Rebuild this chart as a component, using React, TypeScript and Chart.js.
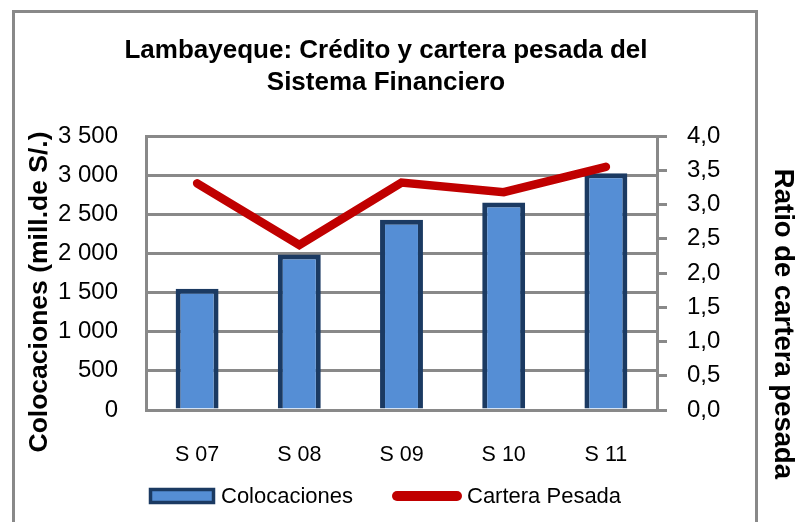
import React, { useEffect, useRef } from 'react';
import { Chart, registerables } from 'chart.js';

Chart.register(...registerables);

const categories = ['S 07', 'S 08', 'S 09', 'S 10', 'S 11'];
const colocaciones = [1550, 1985, 2430, 2650, 3025];
const carteraPesada = [3.31, 2.41, 3.32, 3.18, 3.55];
const titleLines = ['Lambayeque: Crédito y cartera pesada del', 'Sistema Financiero'];
const leftAxisTitle = 'Colocaciones (mill.de S/.)';
const rightAxisTitle = 'Ratio de cartera pesada';
const seriesNames = ['Colocaciones', 'Cartera Pesada'];

const FONT = '"Liberation Sans", Arial, sans-serif';
const GRID = '#898989';
const BAR_FILL = '#558ED5';
const BAR_BORDER = '#1B3A62';
const LINE_COLOR = '#C00000';

const fmtLeft = (v: number) => {
  if (v >= 1000) {
    const th = Math.floor(v / 1000);
    const rest = String(v % 1000).padStart(3, '0');
    return `${th} ${rest}`;
  }
  return String(v);
};

const decorPlugin = {
  id: 'decor',
  afterDraw(chart: any) {
    const ctx = chart.ctx as CanvasRenderingContext2D;
    ctx.save();
    // frame
    ctx.strokeStyle = GRID;
    ctx.lineWidth = 3;
    ctx.strokeRect(13.5, 11.5, 743, 540);

    // title
    ctx.fillStyle = '#000';
    ctx.textAlign = 'center';
    ctx.textBaseline = 'middle';
    ctx.font = `bold 26px ${FONT}`;
    ctx.fillText(titleLines[0], 386, 51);
    ctx.fillText(titleLines[1], 386, 83);

    // left axis title
    ctx.save();
    ctx.translate(40, 292);
    ctx.rotate(-Math.PI / 2);
    ctx.font = `bold 26.5px ${FONT}`;
    ctx.fillText(leftAxisTitle, 0, 0);
    ctx.restore();

    // right axis title
    ctx.save();
    ctx.translate(783, 324);
    ctx.rotate(Math.PI / 2);
    ctx.font = `bold 27.5px ${FONT}`;
    ctx.fillText(rightAxisTitle, 0, 0);
    ctx.restore();

    // legend
    const ly = 496;
    ctx.fillStyle = BAR_FILL;
    ctx.fillRect(150.5, ly - 6.5, 63, 13);
    ctx.strokeStyle = BAR_BORDER;
    ctx.lineWidth = 3.5;
    ctx.strokeRect(150.5, ly - 6.5, 63, 13);
    ctx.fillStyle = '#000';
    ctx.textAlign = 'left';
    ctx.font = `22px ${FONT}`;
    ctx.fillText(seriesNames[0], 221, ly + 1);

    ctx.strokeStyle = LINE_COLOR;
    ctx.lineWidth = 10;
    ctx.lineCap = 'round';
    ctx.beginPath();
    ctx.moveTo(397, ly);
    ctx.lineTo(457, ly);
    ctx.stroke();
    ctx.fillText(seriesNames[1], 467, ly + 1);
    ctx.restore();
  },
};

export default function App() {
  const ref = useRef<HTMLCanvasElement>(null);
  useEffect(() => {
    document.body.style.margin = '0';
    const chart = new Chart(ref.current as HTMLCanvasElement, {
      type: 'bar',
      data: {
        labels: categories,
        datasets: [
          {
            type: 'bar',
            label: seriesNames[0],
            data: colocaciones,
            yAxisID: 'y',
            backgroundColor: BAR_FILL,
            borderColor: BAR_BORDER,
            borderWidth: 5,
            barPercentage: 0.42,
            categoryPercentage: 1,
            order: 2,
          },
          {
            type: 'line',
            label: seriesNames[1],
            data: carteraPesada,
            yAxisID: 'y1',
            borderColor: LINE_COLOR,
            backgroundColor: LINE_COLOR,
            borderWidth: 8.5,
            pointRadius: 0,
            borderCapStyle: 'round',
            borderJoinStyle: 'miter',
            tension: 0,
            order: 1,
          } as any,
        ],
      },
      options: {
        animation: false,
        responsive: false,
        layout: { padding: { top: 136, left: 0, right: 0, bottom: 0 } },
        plugins: {
          legend: { display: false },
          title: { display: false },
          tooltip: { enabled: false },
        },
        scales: {
          x: {
            afterFit: (s: any) => { s.height = 112; },
            grid: { display: false },
            border: { display: true, color: GRID, width: 3 },
            ticks: { color: '#000', font: { family: FONT, size: 21.5 }, padding: 24 },
          },
          y: {
            position: 'left',
            min: 0,
            max: 3500,
            afterFit: (s: any) => { s.width = 146; },
            grid: { color: GRID, lineWidth: 3, drawTicks: false },
            border: { display: true, color: GRID, width: 3 },
            ticks: {
              stepSize: 500,
              color: '#000',
              font: { family: FONT, size: 24 },
              padding: 28,
              callback: (v: any) => fmtLeft(Number(v)),
            },
          },
          y1: {
            position: 'right',
            min: 0,
            max: 4,
            afterFit: (s: any) => { s.width = 139; },
            grid: { drawOnChartArea: false, color: GRID, lineWidth: 3, tickLength: 10 },
            border: { display: true, color: GRID, width: 3 },
            ticks: {
              stepSize: 0.5,
              color: '#000',
              font: { family: FONT, size: 24 },
              padding: 20,
              callback: (v: any) => Number(v).toFixed(1).replace('.', ','),
            },
          },
        },
      },
      plugins: [decorPlugin],
    });
    return () => chart.destroy();
  }, []);
  return (
    <div style={{ width: 796, height: 522, background: '#fff' }}>
      <canvas ref={ref} width={796} height={522} style={{ display: 'block' }} />
    </div>
  );
}
